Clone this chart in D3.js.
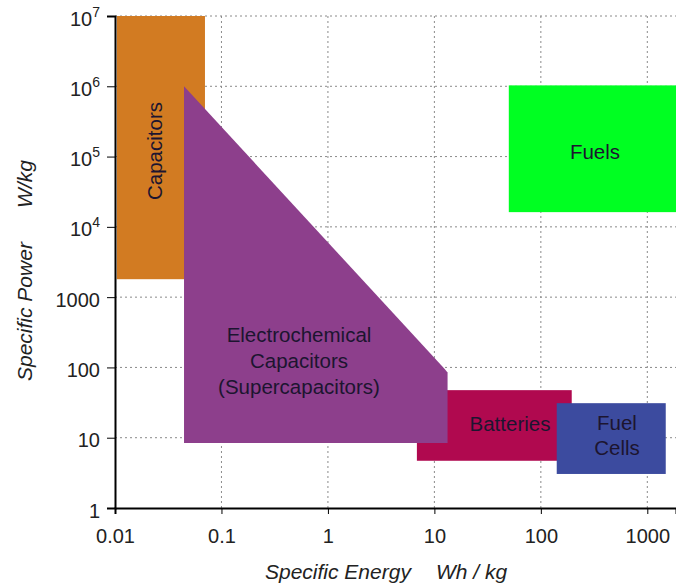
<!DOCTYPE html>
<html>
<head>
<meta charset="utf-8">
<script src="https://cdn.jsdelivr.net/npm/d3@7"></script>
<style>
  body { margin: 0; background: #fff; }
  svg { display: block; font-family: 'Liberation Sans', Arial, sans-serif; }
  .grid line { stroke: #8a8a8a; stroke-width: 1; stroke-dasharray: 2 3; }
  .axis path, .axis line { stroke: #000; }
  .axis text { font-size: 20px; fill: #222; }
  .region-label { font-size: 20.5px; fill: #1c1530; }
  .axis-title { font-size: 21px; font-style: italic; fill: #222; }
</style>
</head>
<body>
<div id="chart"></div>
<script>
// decades on each axis
const xTicks = [0.01, 0.1, 1, 10, 100, 1000]
const yTicks = [1, 10, 100, 1000, 1e4, 1e5, 1e6, 1e7]
const yTickLabels = ['1', '10', '100', '1000', '10|4', '10|5', '10|6', '10|7']

// rectangular regions: [xMin, xMax, yMin, yMax] in Wh/kg and W/kg
const regionNames = ['Capacitors', 'Fuels', 'Batteries', 'Fuel Cells']
const regionX = [[0.0104, 0.07], [50, 2000], [6.85, 195], [141, 1490]]
const regionY = [[1800, 1e7], [16200, 1.03e6], [4.7, 47.5], [3.05, 31]]
const regionColors = ['#d27b22', '#00ff22', '#b0094f', '#3c4b9f']

// supercapacitor polygon vertices [energy, power]
const superEnergy = [0.0445, 12.5, 13.3, 13.3, 0.0445]
const superPower = [1e6, 95, 85, 8.4, 8.4]

const width = 676
const height = 588
const margins = {top: 16, left: 115, right: 0, bottom: 80}

const x = d3.scaleLog()
  .domain([0.01, 1860])
  .range([margins.left, width - margins.right])
const y = d3.scaleLog()
  .domain([1, 1e7])
  .range([height - margins.bottom, margins.top])

const svg = d3.select('#chart')
  .append('svg')
    .attr('width', width)
    .attr('height', height)

// grid
const grid = svg.append('g').classed('grid', true)
grid.selectAll('line.v')
  .data(xTicks.slice(1))
  .enter().append('line')
    .classed('v', true)
    .attr('x1', d => x(d)).attr('x2', d => x(d))
    .attr('y1', y(1e7)).attr('y2', y(1))
grid.selectAll('line.h')
  .data(yTicks.slice(1))
  .enter().append('line')
    .classed('h', true)
    .attr('x1', x.range()[0]).attr('x2', x.range()[1])
    .attr('y1', d => y(d)).attr('y2', d => y(d))

// rectangles
const regions = svg.append('g').classed('regions', true)
regions.selectAll('rect')
  .data(regionNames)
  .enter().append('rect')
    .attr('x', (d, i) => x(regionX[i][0]))
    .attr('width', (d, i) => Math.min(x(regionX[i][1]), width) - x(regionX[i][0]))
    .attr('y', (d, i) => y(regionY[i][1]))
    .attr('height', (d, i) => y(regionY[i][0]) - y(regionY[i][1]))
    .attr('fill', (d, i) => regionColors[i])

// supercapacitor polygon
const superPts = superEnergy.map((e, i) => [x(e), y(superPower[i])])
regions.append('path')
  .attr('d', d3.line()(superPts) + 'Z')
  .attr('fill', '#8d3f8c')

// axes
const xAxisG = svg.append('g')
  .classed('axis', true)
  .attr('transform', 'translate(0,' + y(1) + ')')
  .call(d3.axisBottom(x).tickValues(xTicks).tickFormat(d => d3.format('~g')(d)).tickSizeOuter(0).tickSize(6))
xAxisG.select('.domain').attr('stroke-width', 2)
xAxisG.selectAll('.tick text').attr('y', 35).attr('dy', 0)

const yAxisG = svg.append('g')
  .classed('axis', true)
  .attr('transform', 'translate(' + x(0.01) + ',0)')
  .call(d3.axisLeft(y).tickValues(yTicks).tickFormat('').tickSizeOuter(0).tickSize(8))
yAxisG.select('.domain').attr('stroke-width', 2)
yAxisG.selectAll('.tick').each(function (d, i) {
  const parts = yTickLabels[i].split('|')
  const t = d3.select(this).append('text')
    .attr('x', -15)
    .attr('y', 9)
    .attr('text-anchor', 'end')
    .attr('fill', '#222')
  t.append('tspan').text(parts[0])
  if (parts.length > 1) {
    t.append('tspan').attr('font-size', '14px').attr('dy', -9).text(parts[1])
  }
})

// region labels, baselines given for each line
function label (lines, cx, baselines, rotate) {
  lines.forEach((l, i) => {
    const t = svg.append('text')
      .classed('region-label', true)
      .attr('text-anchor', 'middle')
      .text(l)
    if (rotate) {
      t.attr('transform', 'translate(' + baselines[i] + ',' + cx + ') rotate(-90)')
    } else {
      t.attr('x', cx).attr('y', baselines[i])
    }
  })
}
label(['Capacitors'], 151, [162], true)
label(['Fuels'], 595, [159])
label(['Electrochemical', 'Capacitors', '(Supercapacitors)'], 299, [342, 368, 394])
label(['Batteries'], 510, [431])
label(['Fuel', 'Cells'], 617, [430, 455])

// axis titles
svg.append('text')
  .classed('axis-title', true)
  .attr('font-size', '22.5px')
  .attr('transform', 'translate(32,381) rotate(-90)')
  .text('Specific Power')
svg.append('text')
  .classed('axis-title', true)
  .attr('transform', 'translate(32,208) rotate(-90)')
  .text('W/kg')

svg.append('text')
  .classed('axis-title', true)
  .attr('x', 265)
  .attr('y', 579)
  .text('Specific Energy')
svg.append('text')
  .classed('axis-title', true)
  .attr('x', 436)
  .attr('y', 579)
  .text('Wh / kg')
</script>
</body>
</html>
